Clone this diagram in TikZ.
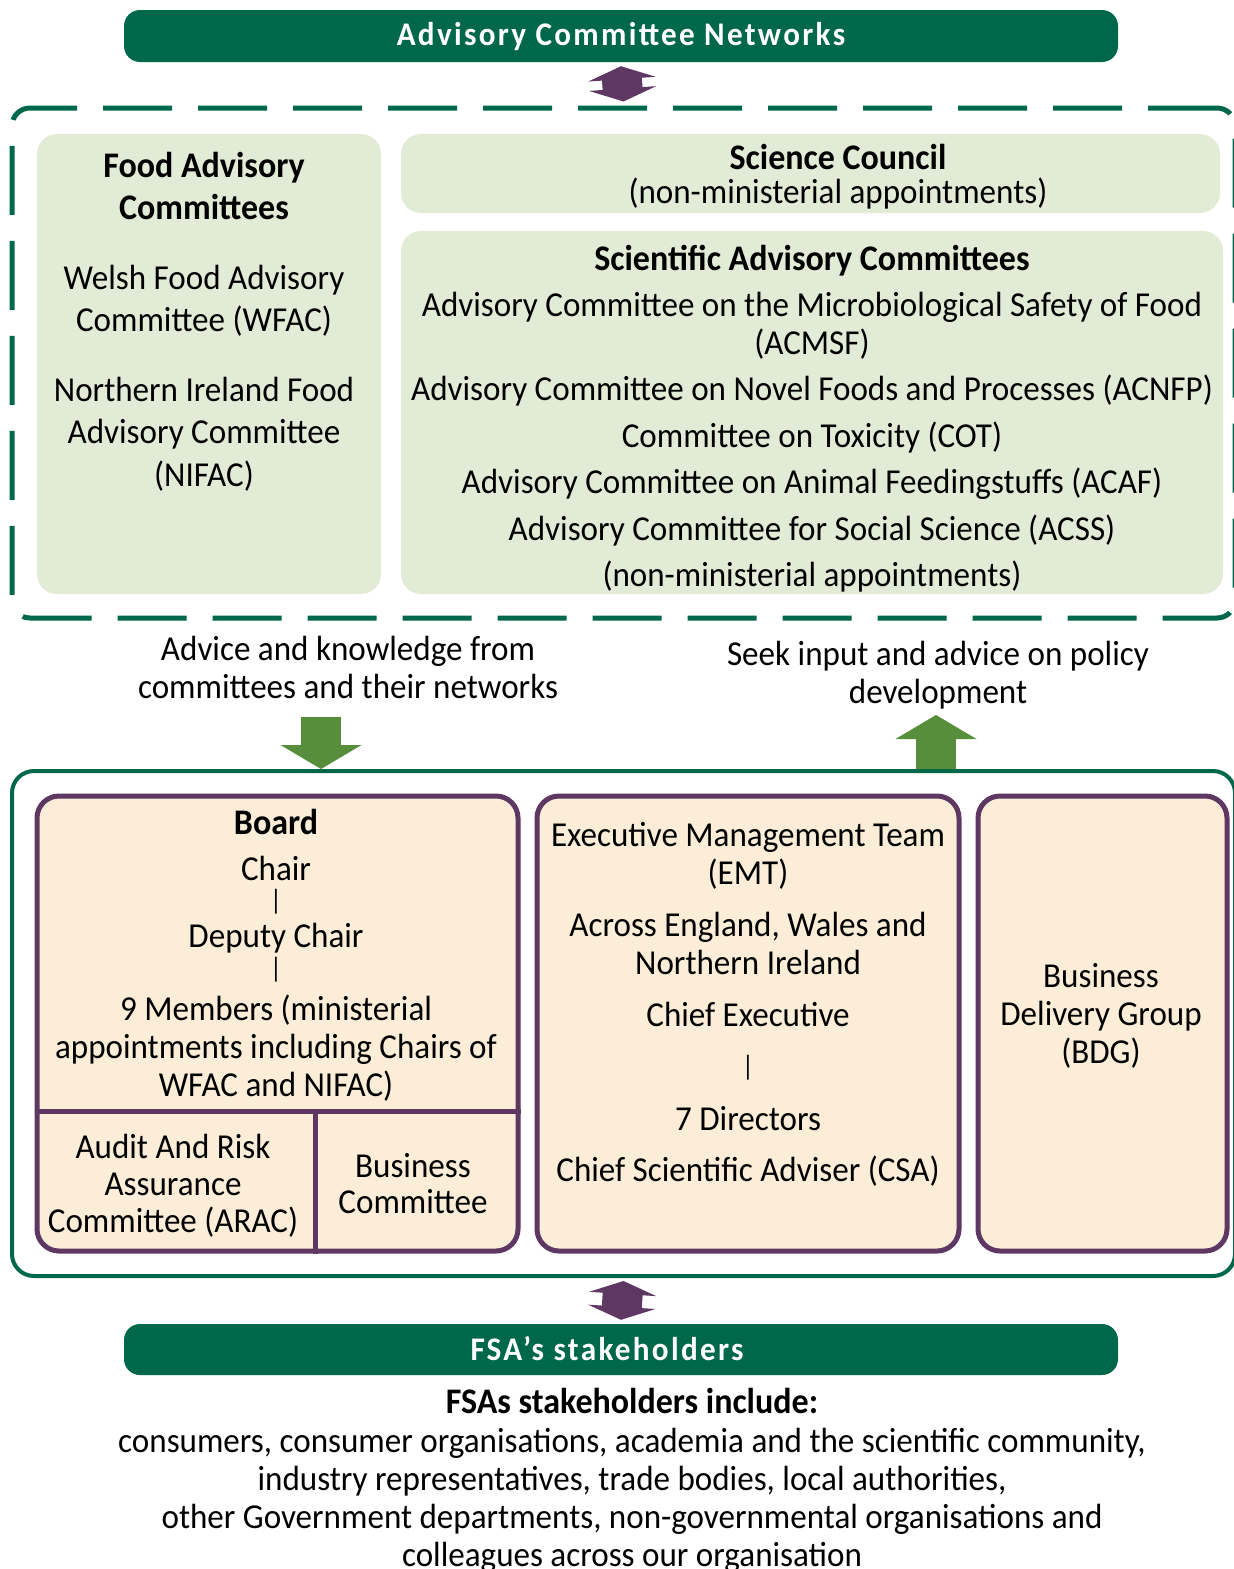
\documentclass[tikz,border=0pt]{standalone}
\usepackage{fontspec}
\setmainfont{Carlito}[FakeStretch=0.945]
\usepackage{tikz}
\usetikzlibrary{arrows.meta,positioning}
\usepackage{xcolor}
\definecolor{fsagreen}{RGB}{0,104,74}
\definecolor{paleleaf}{RGB}{226,235,213}
\definecolor{creamfill}{RGB}{251,237,216}
\definecolor{plum}{RGB}{94,55,98}
\definecolor{leafgreen}{RGB}{86,142,59}
\newcommand{\fsabody}{\fontsize{35}{40}\selectfont}
\newcommand{\fsahead}{\fontsize{36}{40}\selectfont\bfseries}
\tikzset{
    banner/.style={fill=fsagreen, rounded corners=16pt, minimum width=994pt,
                   minimum height=52pt, inner sep=0pt},
    bannertxt/.style={inner sep=0pt, anchor=base, text=white,
                      font=\fontsize{33}{36}\selectfont\bfseries\addfontfeature{LetterSpace=7}},
    softbox/.style={fill=paleleaf, rounded corners=20pt, inner sep=0pt},
    orgbox/.style={draw=plum, line width=5pt, fill=creamfill,
                   rounded corners=22pt, inner sep=0pt,
                   minimum height=455pt},
    lbl/.style={font=\fsabody, inner sep=0pt, anchor=base},
    hlbl/.style={font=\fsahead, inner sep=0pt, anchor=base},
    barlbl/.style={font=\fontsize{28}{30}\selectfont, inner sep=0pt, anchor=base},
    fatpair/.style={draw=#1, line width=40pt,
                    {Triangle[width=67pt,length=13pt]}-{Triangle[width=67pt,length=13pt]}},
    fatone/.style={draw=#1, line width=40pt, -{Triangle[width=80pt,length=24pt]}},
}

\begin{document}
\begin{tikzpicture}[x=1pt, y=-1pt]
    \useasboundingbox (0,0) rectangle (1234,1569);

    \node[banner] (topbar) at (621,36) {};
    \node[bannertxt] (topbartxt) at (621,45) {Advisory Committee Networks};

    \node[draw=fsagreen, line width=5pt, dash pattern=on 69pt off 26pt,
          rounded corners=18pt, minimum width=1223pt, minimum height=510pt]
          (acn) at (623.5,363) {};

    \node[softbox, minimum width=344pt, minimum height=460pt] (fac) at (209,364) {};
    \node[softbox, minimum width=819pt, minimum height=79pt] (sc) at (810.5,173.5) {};
    \node[softbox, minimum width=822pt, minimum height=363pt] (sac) at (812,412.5) {};

    \node[hlbl] (facA) at (204,177) {Food Advisory};
    \node[hlbl] (facB) at (204,219) {Committees};
    \node[lbl] (wfacA) at (204,289) {Welsh Food Advisory};
    \node[lbl] (wfacB) at (204,331) {Committee (WFAC)};
    \node[lbl] (nifacA) at (204,401) {Northern Ireland Food};
    \node[lbl] (nifacB) at (204,443) {Advisory Committee};
    \node[lbl] (nifacC) at (204,486) {(NIFAC)};

    \node[hlbl] (scA) at (838,169) {Science Council};
    \node[lbl] (scB) at (838,203) {(non-ministerial appointments)};

    \node[hlbl] (sacA) at (812,270) {Scientific Advisory Committees};
    \node[lbl] (acmsfA) at (812,316) {Advisory Committee on the Microbiological Safety of Food};
    \node[lbl] (acmsfB) at (812,354) {(ACMSF)};
    \node[lbl] (acnfp) at (812,400) {Advisory Committee on Novel Foods and Processes (ACNFP)};
    \node[lbl] (cot) at (812,447) {Committee on Toxicity (COT)};
    \node[lbl] (acaf) at (812,493) {Advisory Committee on Animal Feedingstuffs (ACAF)};
    \node[lbl] (acss) at (812,540) {Advisory Committee for Social Science (ACSS)};
    \node[lbl] (sacB) at (812,586) {(non-ministerial appointments)};

    \node[lbl] (advA) at (348,660) {Advice and knowledge from};
    \node[lbl] (advB) at (348,698) {committees and their networks};
    \node[lbl] (seekA) at (938,665) {Seek input and advice on policy};
    \node[lbl] (seekB) at (938,703) {development};

    \node[draw=fsagreen, line width=4pt, rounded corners=22pt,
          minimum width=1223pt, minimum height=505pt] (org) at (623.5,1023.5) {};

    \node[orgbox, minimum width=481pt] (board) at (277.5,1023.5) {};
    \node[orgbox, minimum width=422pt] (emt) at (748,1023.5) {};
    \node[orgbox, minimum width=249pt] (bdg) at (1102.5,1023.5) {};
    \coordinate (split) at (315,1111);
    \draw[plum, line width=5pt] (board.west |- split) -- (board.east |- split);
    \draw[plum, line width=5pt] (split) -- (split |- board.south);

    \node[hlbl] (boardA) at (276,834) {Board};
    \node[lbl] (chair) at (276,880) {Chair};
    \node[barlbl] (barA) at (276,909) {|};
    \node[lbl] (deputy) at (276,947) {Deputy Chair};
    \node[barlbl] (barB) at (276,977) {|};
    \node[lbl] (memA) at (276,1020) {9 Members (ministerial};
    \node[lbl] (memB) at (276,1058) {appointments including Chairs of};
    \node[lbl] (memC) at (276,1096) {WFAC and NIFAC)};
    \node[lbl] (aracA) at (173,1158) {Audit And Risk};
    \node[lbl] (aracB) at (173,1195) {Assurance};
    \node[lbl] (aracC) at (173,1232) {Committee (ARAC)};
    \node[lbl] (bcA) at (413,1177) {Business};
    \node[lbl] (bcB) at (413,1213) {Committee};

    \node[lbl] (emtA) at (748,846) {Executive Management Team};
    \node[lbl] (emtB) at (748,884) {(EMT)};
    \node[lbl] (emtC) at (748,936) {Across England, Wales and};
    \node[lbl] (emtD) at (748,974) {Northern Ireland};
    \node[lbl] (ceo) at (748,1026) {Chief Executive};
    \node[barlbl] (barC) at (748,1075) {|};
    \node[lbl] (dirs) at (748,1130) {7 Directors};
    \node[lbl] (csa) at (748,1181) {Chief Scientific Adviser (CSA)};

    \node[lbl] (bdgA) at (1101,987) {Business};
    \node[lbl] (bdgB) at (1101,1025) {Delivery Group};
    \node[lbl] (bdgC) at (1101,1063) {(BDG)};

    \node[banner, minimum height=51pt] (fsabar) at (621,1349.5) {};
    \node[bannertxt] (fsabartxt) at (607,1360) {FSA’s stakeholders};

    \node[hlbl] (incl) at (632,1413) {FSAs stakeholders include:};
    \node[lbl] (inclA) at (632,1452) {consumers, consumer organisations, academia and the scientific community,};
    \node[lbl] (inclB) at (632,1490) {industry representatives, trade bodies, local authorities,};
    \node[lbl] (inclC) at (632,1528) {other Government departments, non-governmental organisations and};
    \node[lbl] (inclD) at (632,1566) {colleagues across our organisation};

    \coordinate (dnfrom) at (321,717);
    \coordinate (upto) at (936,715);
    \draw[fatpair=plum] ([yshift=-4pt]topbar.south) -- ([yshift=4pt]acn.north);
    \draw[fatone=leafgreen] (dnfrom) -- (dnfrom |- org.north);
    \draw[fatone=leafgreen] (upto |- org.north) -- (upto);
    \draw[fatpair=plum] ([yshift=-3pt]org.south) -- ([yshift=4pt]fsabar.north);
\end{tikzpicture}
\end{document}
